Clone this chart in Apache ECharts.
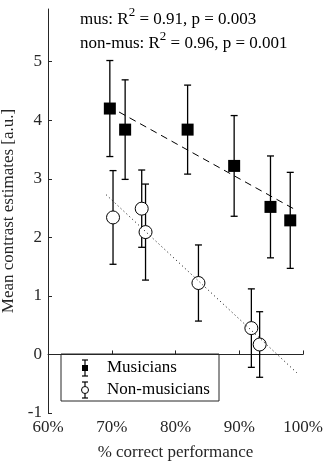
<!DOCTYPE html>
<html>
<head>
<meta charset="utf-8">
<script src="https://cdn.jsdelivr.net/npm/echarts@6/dist/echarts.min.js"></script>
<style>
  html, body { margin: 0; padding: 0; background: #fff; }
  #chart { width: 325px; height: 462px; }
</style>
</head>
<body>
<div id="chart"></div>
<script>
// musicians: % correct, mean estimate, error half-width
const musX = [69.7, 72.1, 81.9, 89.2, 94.9, 98.0];
const musY = [4.20, 3.84, 3.84, 3.22, 2.52, 2.29];
const musErr = [0.82, 0.85, 0.76, 0.86, 0.87, 0.82];
// non-musicians
const nonX = [70.2, 74.7, 75.3, 83.6, 91.9, 93.2];
const nonY = [2.34, 2.49, 2.09, 1.22, 0.45, 0.17];
const nonErr = [0.80, 0.66, 0.82, 0.65, 0.67, 0.56];
// fitted regression lines (end points)
const musFit = [[69.5, 4.24], [99.0, 2.46]];
const nonFit = [[69.1, 2.73], [99.0, -0.31]];

const yTicks = [-1, 0, 1, 2, 3, 4, 5];
const ink = '#262626';
const serif = 'Liberation Serif';

function errData(xs, ys, es) {
  return xs.map((x, i) => [x, ys[i] - es[i], ys[i] + es[i]]);
}
function pts(xs, ys) {
  return xs.map((x, i) => [x, ys[i]]);
}

function renderErr(params, api) {
  const lo = api.coord([api.value(0), api.value(1)]);
  const hi = api.coord([api.value(0), api.value(2)]);
  const cap = 3.5;
  const st = { stroke: '#000', lineWidth: 1.3 };
  return {
    type: 'group',
    children: [
      { type: 'line', shape: { x1: lo[0], y1: lo[1], x2: hi[0], y2: hi[1] }, style: st },
      { type: 'line', shape: { x1: lo[0] - cap, y1: lo[1], x2: lo[0] + cap, y2: lo[1] }, style: st },
      { type: 'line', shape: { x1: hi[0] - cap, y1: hi[1], x2: hi[0] + cap, y2: hi[1] }, style: st }
    ]
  };
}

// small error-bar icon for the legend box
function legendIcon(cx, cy, marker) {
  const st = { stroke: '#000', lineWidth: 1.2 };
  return [
    { type: 'line', shape: { x1: cx, y1: cy - 8, x2: cx, y2: cy + 8 }, style: st },
    { type: 'line', shape: { x1: cx - 3, y1: cy - 8, x2: cx + 3, y2: cy - 8 }, style: st },
    { type: 'line', shape: { x1: cx - 3, y1: cy + 8, x2: cx + 3, y2: cy + 8 }, style: st },
    marker
  ];
}

const chart = echarts.init(document.getElementById('chart'));
chart.setOption({
  animation: false,
  grid: { left: 48, right: 22, top: 9, bottom: 49, outerBoundsMode: 'none' },
  xAxis: {
    type: 'value', min: 60, max: 100, interval: 10,
    name: '% correct performance', nameLocation: 'middle', nameGap: 31,
    nameTextStyle: { fontFamily: serif, fontSize: 17, color: ink },
    axisLine: { show: true, lineStyle: { color: ink, width: 1 } },
    axisTick: { show: true, inside: true, length: 4, lineStyle: { color: ink } },
    axisLabel: { formatter: '{value}%', fontFamily: serif, fontSize: 17, color: ink, margin: 6 },
    splitLine: { show: false }
  },
  yAxis: {
    type: 'value', min: -1, max: 5.9, interval: 1,
    name: 'Mean contrast estimates [a.u.]', nameLocation: 'middle', nameGap: 26,
    nameTextStyle: { fontFamily: serif, fontSize: 17, color: ink },
    axisLine: { show: true, lineStyle: { color: ink, width: 1 } },
    axisTick: { show: true, inside: true, length: 4, customValues: yTicks, lineStyle: { color: ink } },
    axisLabel: { customValues: yTicks, fontFamily: serif, fontSize: 17, color: ink, margin: 6 },
    splitLine: { show: false }
  },
  series: [
    { type: 'custom', z: 1, renderItem: renderErr, data: errData(musX, musY, musErr) },
    { type: 'custom', z: 1, renderItem: renderErr, data: errData(nonX, nonY, nonErr) },
    {
      name: 'Musicians', type: 'scatter', z: 2, symbol: 'rect', symbolSize: 12,
      itemStyle: { color: '#000', opacity: 1 }, data: pts(musX, musY)
    },
    {
      name: 'Non-musicians', type: 'scatter', z: 2, symbol: 'circle', symbolSize: 13,
      itemStyle: { color: '#fff', borderColor: '#000', borderWidth: 1, opacity: 1 }, data: pts(nonX, nonY)
    },
    {
      type: 'line', z: 3, symbol: 'none', silent: true, data: musFit,
      lineStyle: { color: '#000', width: 1, type: [7, 5] }
    },
    {
      type: 'line', z: 3, symbol: 'none', silent: true, data: nonFit,
      lineStyle: { color: '#000', width: 1, type: [1, 3] }
    }
  ],
  graphic: [
    {
      type: 'text', left: 80, top: 6, z: 10,
      style: {
        text: '{a|mus: R}{s|2}{a| = 0.91, p = 0.003}',
        rich: {
          a: { fontFamily: serif, fontSize: 17, fill: '#000', lineHeight: 22, verticalAlign: 'bottom' },
          s: { fontFamily: serif, fontSize: 13, fill: '#000', lineHeight: 22, verticalAlign: 'top' }
        }
      }
    },
    {
      type: 'text', left: 80, top: 30, z: 10,
      style: {
        text: '{a|non-mus: R}{s|2}{a| = 0.96, p = 0.001}',
        rich: {
          a: { fontFamily: serif, fontSize: 17, fill: '#000', lineHeight: 22, verticalAlign: 'bottom' },
          s: { fontFamily: serif, fontSize: 13, fill: '#000', lineHeight: 22, verticalAlign: 'top' }
        }
      }
    },
    {
      type: 'group', z: 10,
      children: [
        { type: 'rect', shape: { x: 61, y: 354, width: 158, height: 47 }, style: { fill: '#fff', stroke: ink, lineWidth: 1 } },
        ...legendIcon(85, 368, { type: 'rect', shape: { x: 82, y: 365, width: 6, height: 6 }, style: { fill: '#000' } }),
        ...legendIcon(85, 390, { type: 'circle', shape: { cx: 85, cy: 390, r: 3.5 }, style: { fill: '#fff', stroke: '#000', lineWidth: 1 } }),
        { type: 'text', x: 107, y: 368, style: { text: 'Musicians', fontFamily: serif, fontSize: 17, fill: '#000', verticalAlign: 'middle' } },
        { type: 'text', x: 107, y: 390, style: { text: 'Non-musicians', fontFamily: serif, fontSize: 17, fill: '#000', verticalAlign: 'middle' } }
      ]
    }
  ]
});
</script>
</body>
</html>
